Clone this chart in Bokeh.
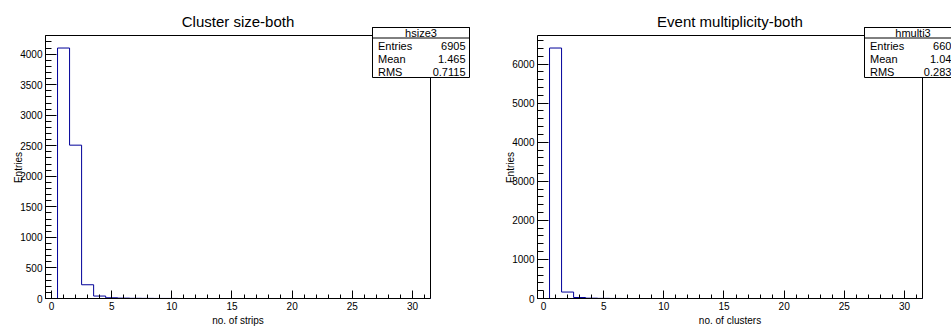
import math
import numpy as np
from bokeh.plotting import figure
from bokeh.layouts import row
from bokeh.models import Range1d, SingleIntervalTicker, Label, BoxAnnotation
from bokeh.embed import file_html
from bokeh.resources import INLINE

# ---- data ----
bin_centers = list(range(32))
size_counts = [0, 4100, 2510, 225, 40, 12, 6, 3, 2, 1, 1] + [0] * 21
multi_counts = [0, 6410, 165, 25, 8, 3, 1] + [0] * 25

titles = ["Cluster size-both", "Event multiplicity-both"]
x_titles = ["no. of strips", "no. of clusters"]
y_title = "Entries"
hist_names = ["hsize3", "hmulti3"]
stat_rows = ["Entries", "Mean", "RMS"]
size_stats = ["6905", "1.465", "0.7115"]
multi_stats = ["6606", "1.045", "0.2832"]
y_tick_steps = [500, 1000]

FONT = "Liberation Sans"
LINE = "#000099"

ROOT_W = 385        # width of the histogram frame in px
ROOT_TOP = 35       # page y of histogram frame top
ROOT_BOTTOM = 298   # page y of histogram frame bottom
H = 327


def make_panel(counts, title, xtitle, hname, stats, ystep, width, bl):
    x0, x1 = bin_centers[0] - 0.5, bin_centers[-1] + 0.5
    y_top = 1.05 * max(counts)
    root_h = ROOT_BOTTOM - ROOT_TOP
    dx = (x1 - x0) / ROOT_W      # data per px
    dy = y_top / root_h

    def fx(px):                   # px from canvas left -> data x
        return x0 + (px - bl) * dx

    def fy(py):                   # px from canvas top -> data y
        return (ROOT_BOTTOM - py) * dy

    p = figure(width=width, height=H, output_backend="svg", toolbar_location=None,
               x_range=Range1d(fx(0), fx(width)), y_range=Range1d(fy(H), fy(0)),
               min_border=0, title=None)
    p.background_fill_color = "white"
    p.border_fill_color = "white"
    p.outline_line_color = None
    p.grid.visible = False

    # frame top/right borders of the histogram area
    p.line([x0, x1, x1], [y_top, y_top, 0], line_color="black", line_width=1)

    # histogram step outline
    c = np.array(counts, dtype=float)
    centers = np.array(bin_centers, dtype=float)
    lefts = centers - 0.5
    rights = centers + 0.5
    xs = np.concatenate([[lefts[0]], np.column_stack([lefts, rights]).ravel(), [rights[-1]]])
    ys = np.concatenate([[0.0], np.repeat(c, 2), [0.0]])
    p.line(xs, ys, line_color=LINE, line_width=1)

    # axes, pinned to the histogram frame
    for ax in (p.xaxis[0], p.yaxis[0]):
        ax.axis_line_color = "black"
        ax.major_tick_line_color = "black"
        ax.minor_tick_line_color = "black"
        ax.major_tick_out = 0
        ax.minor_tick_out = 0
        ax.major_label_text_font = FONT
        ax.major_label_text_font_size = "10px"
        ax.major_label_text_color = "black"
        ax.major_label_standoff = 3
    p.xaxis.fixed_location = 0
    p.yaxis.fixed_location = x0
    p.xaxis.bounds = (x0, x1)
    p.yaxis.bounds = (0, y_top)
    p.xaxis.ticker = SingleIntervalTicker(interval=5, num_minor_ticks=5)
    p.xaxis.major_tick_in = 8
    p.xaxis.minor_tick_in = 4
    p.yaxis.ticker = SingleIntervalTicker(interval=ystep, num_minor_ticks=5)
    p.yaxis.major_tick_in = 11
    p.yaxis.minor_tick_in = 6

    # title and axis titles
    p.add_layout(Label(x=(x0 + x1) / 2, y=fy(21), text=title, text_align="center",
                       text_baseline="alphabetic", text_font=FONT, text_font_size="15px",
                       text_color="black"))
    p.add_layout(Label(x=(x0 + x1) / 2, y=fy(320), text=xtitle, text_align="center",
                       text_baseline="alphabetic", text_font=FONT, text_font_size="10px",
                       text_color="black"))
    p.add_layout(Label(x=fx(bl - 27), y=fy(167), text=y_title, angle=math.pi / 2,
                       text_align="center", text_baseline="middle", text_font=FONT,
                       text_font_size="10px", text_color="black"))

    # stat box
    bx0 = bl + 327
    bx1 = bx0 + 97
    p.add_layout(BoxAnnotation(left=fx(bx0), right=fx(bx1), top=fy(27), bottom=fy(77),
                               fill_color="white", fill_alpha=1.0, line_color="black",
                               line_width=1, line_alpha=1.0))
    p.add_layout(BoxAnnotation(left=fx(bx0), right=fx(bx1), top=fy(27), bottom=fy(37.5),
                               fill_alpha=0.0, line_color="black", line_width=1, line_alpha=1.0))
    p.add_layout(Label(x=fx((bx0 + bx1) / 2), y=fy(32.5), text=hname, text_align="center",
                       text_baseline="middle", text_font=FONT, text_font_size="11px",
                       text_color="black"))
    for name, val, py in zip(stat_rows, stats, [45, 58.5, 71.5]):
        p.add_layout(Label(x=fx(bx0 + 5.5), y=fy(py), text=name, text_align="left",
                           text_baseline="middle", text_font=FONT, text_font_size="11px",
                           text_color="black"))
        p.add_layout(Label(x=fx(bx1 - 4), y=fy(py), text=val, text_align="right",
                           text_baseline="middle", text_font=FONT, text_font_size="11px",
                           text_color="black"))
    return p


p1 = make_panel(size_counts, titles[0], x_titles[0], hist_names[0], size_stats, y_tick_steps[0],
                476, 45)
p2 = make_panel(multi_counts, titles[1], x_titles[1], hist_names[1], multi_stats, y_tick_steps[1],
                475, 61)

layout = row(p1, p2)
open("out.html", "w").write(file_html(layout, INLINE))
